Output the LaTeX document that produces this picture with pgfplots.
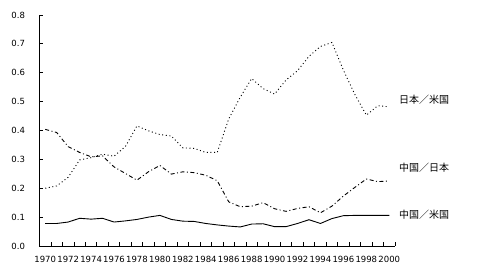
\documentclass[border=0pt]{standalone}
\usepackage{pgfplots}
\pgfplotsset{compat=1.18}
\usepackage{fontspec}
\setmainfont{DejaVu Sans}
\newfontfamily\cjk{Noto Sans CJK JP}
\pgfplotstableread{
year jpus cnjp cnus
1970 0.200 0.404 0.078
1971 0.208 0.393 0.078
1972 0.238 0.344 0.083
1973 0.298 0.324 0.096
1974 0.306 0.309 0.093
1975 0.318 0.312 0.096
1976 0.311 0.274 0.083
1977 0.345 0.251 0.087
1978 0.416 0.228 0.092
1979 0.399 0.257 0.100
1980 0.386 0.279 0.106
1981 0.381 0.249 0.092
1982 0.340 0.257 0.086
1983 0.338 0.254 0.085
1984 0.324 0.245 0.078
1985 0.324 0.226 0.073
1986 0.440 0.153 0.069
1987 0.515 0.136 0.066
1988 0.580 0.138 0.076
1989 0.545 0.150 0.077
1990 0.526 0.129 0.067
1991 0.575 0.120 0.067
1992 0.607 0.130 0.078
1993 0.657 0.136 0.091
1994 0.691 0.115 0.078
1995 0.705 0.138 0.095
1996 0.609 0.173 0.105
1997 0.525 0.203 0.106
1998 0.453 0.232 0.106
1999 0.486 0.223 0.106
2000 0.482 0.225 0.106
}\datatable
\begin{document}
\begin{tikzpicture}
\begin{axis}[
  scale only axis,
  width=355.5pt, height=231pt,
  xmin=1969.5, xmax=2000.5,
  ymin=0, ymax=0.8,
  /pgf/number format/assume math mode=true,
  separate axis lines,
  axis line style={line width=0.8pt},
  every outer x axis line/.append style={-},
  every outer y axis line/.append style={-},
  axis x line*=bottom, axis y line*=left,
  xmajorticks=true, ymajorticks=true,
  xtick pos=left, ytick pos=left,
  tick align=inside,
  major tick length=3.5pt,
  major tick style={draw=black, line width=0.8pt},
  xtick={1969.5,1970.5,...,2000.5},
  xticklabel=\empty,
  extra x ticks={1970,1972,...,2000},
  extra x tick style={major tick style={draw=none}, xticklabel={\pgfmathprintnumber[1000 sep={},assume math mode=true]{\tick}}},
  ytick={0,0.1,...,0.8},
  yticklabel={\pgfmathprintnumber[fixed,fixed zerofill,precision=1,assume math mode=true]{\tick}},
  ticklabel style={font=\fontsize{8.5}{9}\selectfont},
  xticklabel style={yshift=-7pt},
  yticklabel style={xshift=-11pt},
  clip=false,
]
\addplot[black, line width=0.9pt, dash pattern=on 1pt off 2.6pt] table[x=year,y=jpus]{\datatable};
\addplot[black, line width=0.9pt, dash pattern=on 4pt off 2.5pt on 1pt off 2.5pt] table[x=year,y=cnjp]{\datatable};
\addplot[black, line width=0.9pt] table[x=year,y=cnus]{\datatable};
\node[anchor=west, inner sep=0pt, font=\cjk\fontsize{10}{10}\selectfont] at (axis cs:2000.85,0.505) {日本／米国};
\node[anchor=west, inner sep=0pt, font=\cjk\fontsize{10}{10}\selectfont] at (axis cs:2000.85,0.272) {中国／日本};
\node[anchor=west, inner sep=0pt, font=\cjk\fontsize{10}{10}\selectfont] at (axis cs:2000.85,0.107) {中国／米国};
\coordinate (O) at (axis cs:1969.5,0);
\end{axis}
\pgfresetboundingbox
\path[use as bounding box] ([shift={(-39.5pt,-27pt)}]O) rectangle ([shift={(437.5pt,246pt)}]O);
\end{tikzpicture}
\end{document}
